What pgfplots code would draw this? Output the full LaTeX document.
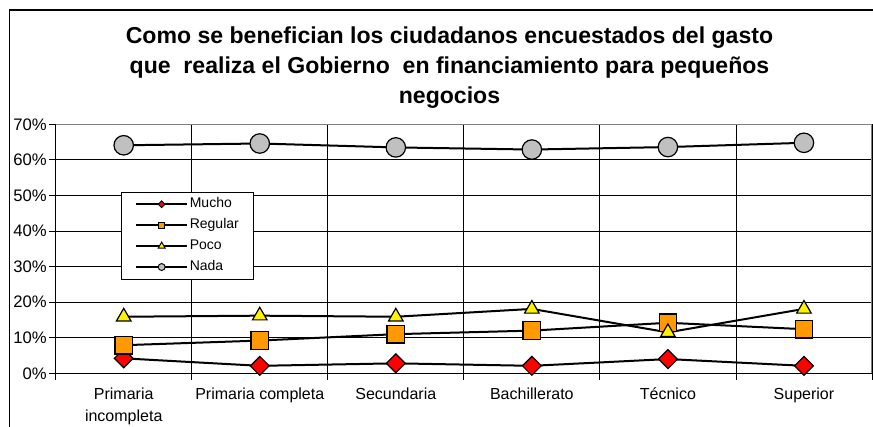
\documentclass[border=0pt]{standalone}
\usepackage{fontspec}
\setmainfont{Liberation Sans}
\usepackage{pgfplots}
\pgfplotsset{compat=1.18}
\definecolor{xlorange}{RGB}{255,153,0}
\definecolor{xlgray}{RGB}{192,192,192}
\definecolor{xlborder}{RGB}{128,128,128}
\begin{document}
\begin{tikzpicture}
\clip (0,0) rectangle (654.75pt,320.25pt);
% chart frame, cut off at right and bottom
\draw[line width=1pt] (7.125pt,-20pt) rectangle (700pt,312.75pt);
% title
\begin{scope}[every node/.style={anchor=base, inner sep=0pt, font=\fontsize{17.3}{20}\selectfont\bfseries}]
\node at (337.1pt,287.8pt) {Como se benefician los ciudadanos encuestados del gasto};
\node at (337.1pt,265.3pt) {que\ \ realiza el Gobierno\ \ en financiamiento para pequeños};
\node at (337.1pt,242.8pt) {negocios};
\end{scope}
\begin{axis}[
  at={(41.775pt,40.275pt)}, anchor=south west,
  scale only axis, width=612.2pt, height=186.75pt,
  xmin=-0.5, xmax=5.5, ymin=0, ymax=70,
  axis x line*=bottom, axis y line*=left,
  axis line style={black, line width=0.9pt},
  xtick={-0.5,0.5,...,5.5}, xticklabels={,,,,,,},
  ytick={0,10,...,70},
  yticklabel={\pgfmathprintnumber{\tick}\%},
  /pgf/number format/assume math mode=true,
  xmajorgrids, ymajorgrids,
  major grid style={black, line width=0.6pt},
  tick align=outside, major tick length=5pt,
  tick style={black, line width=0.6pt},
  ticklabel style={font=\fontsize{12}{16.2}\selectfont},
  yticklabel style={inner xsep=1.5pt, font=\fontsize{12.5}{15}\selectfont},
  extra x ticks={0,1,2,3,4,5},
  extra x tick labels={Primaria\\incompleta,Primaria completa,Secundaria,Bachillerato,Técnico,Superior},
  extra x tick style={major tick length=0pt, grid=none,
    typeset ticklabels with strut,
    tick label style={align=center, yshift=-5pt}},
  legend style={at={(axis description cs:0.08,0.7293)}, anchor=north west,
    draw=black, line width=0.8pt, fill=white,
    font=\fontsize{10.5}{12}\selectfont,
    inner xsep=10pt, inner ysep=3pt, row sep=3.7pt,
    nodes={inner sep=1pt, text height=7.6pt, text depth=2.4pt},
    cells={anchor=west}},
  legend image code/.code={\draw[mark repeat=2,mark phase=2,#1] plot coordinates {(0pt,0pt) (19.35pt,0pt) (38.7pt,0pt)};},
]
\addplot[forget plot, black, line width=1.5pt, mark=square*, mark size=5pt,
  mark options={fill=red, rotate=45, line width=0.9pt}]
  coordinates {(0,4.2) (1,2.1) (2,2.8) (3,2.1) (4,4.0) (5,2.1)};
\addplot[forget plot, black, line width=1.5pt, mark=square*, mark size=6.6pt,
  mark options={fill=xlorange, line width=0.9pt}]
  coordinates {(0,7.9) (1,9.2) (2,11.0) (3,12.0) (4,14.2) (5,12.4)};
\addplot[forget plot, black, line width=1.5pt, mark=triangle*, mark size=6.3pt,
  mark options={fill=yellow, line width=0.9pt}]
  coordinates {(0,15.9) (1,16.2) (2,15.9) (3,18.1) (4,11.5) (5,18.1)};
\addplot[forget plot, black, line width=1.5pt, mark=*, mark size=7.3pt,
  mark options={fill=xlgray, line width=0.9pt}]
  coordinates {(0,64.1) (1,64.6) (2,63.5) (3,62.9) (4,63.6) (5,64.8)};
\draw[xlborder, line width=1pt] (rel axis cs:0,1) -- (rel axis cs:1,1) -- (rel axis cs:1,0);
\addlegendimage{black, line width=1.5pt, mark=square*, mark size=1.8pt, mark options={fill=red, rotate=45, line width=0.7pt}}
\addlegendentry{Mucho}
\addlegendimage{black, line width=1.5pt, mark=square*, mark size=2.1pt, mark options={fill=xlorange, line width=0.7pt}}
\addlegendentry{Regular}
\addlegendimage{black, line width=1.5pt, mark=triangle*, mark size=3pt, mark options={fill=yellow, line width=0.7pt}}
\addlegendentry{Poco}
\addlegendimage{black, line width=1.5pt, mark=*, mark size=2.6pt, mark options={fill=xlgray, line width=0.7pt}}
\addlegendentry{Nada}
\end{axis}
\end{tikzpicture}
\end{document}
